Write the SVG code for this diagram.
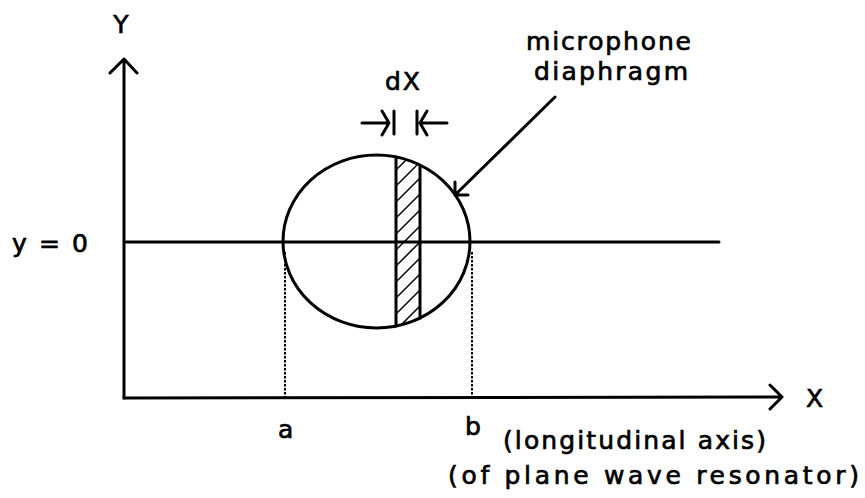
<svg xmlns="http://www.w3.org/2000/svg" width="865" height="498" viewBox="0 0 865 498">
<defs>
<style>
.ln{stroke:#000;stroke-width:3;fill:none;stroke-linecap:round;stroke-linejoin:round}
.dot{stroke:#000;stroke-width:2;fill:none;stroke-dasharray:2.5 1.5}
.hat{stroke:#000;stroke-width:1.5;fill:none}
.t{font-family:"DejaVu Sans",sans-serif;font-size:25px;fill:#000;stroke:#000;stroke-width:0.7;letter-spacing:2px}
</style>
<clipPath id="strip"><path d="M396,157 L420,166 L420,318 L396,326 Z"/></clipPath>
</defs>
<rect width="865" height="498" fill="#fff"/>
<g id="axes">
<path class="ln" d="M124,398 L124,59 M110,73 L124,59 L137,73"/>
<path class="ln" d="M124,398 L782,397 M770,385 L782,397 L770,409"/>
<text class="t" x="122" y="33" text-anchor="middle">Y</text>
<text class="t" x="806" y="407">X</text>
</g>
<g id="zero-line">
<path class="ln" d="M126,242 L719,242"/>
<text class="t" x="12" y="252" textLength="78" lengthAdjust="spacing">y = 0</text>
</g>
<g id="diaphragm">
<ellipse class="ln" cx="376.5" cy="241.5" rx="93.5" ry="86.5"/>
<g clip-path="url(#strip)">
<path class="hat" d="M380,170 L430,120 M380,186 L430,136 M380,202 L430,152 M380,218 L430,168 M380,234 L430,184 M380,250 L430,200 M380,266 L430,216 M380,282 L430,232 M380,298 L430,248 M380,314 L430,264 M380,330 L430,280 M380,346 L430,296 M380,362 L430,312 M380,378 L430,328"/>
</g>
<path class="ln" d="M396,157 L396,326 M420,166 L420,318"/>
</g>
<g id="dx">
<text class="t" x="385" y="90" textLength="37" lengthAdjust="spacing">dX</text>
<path class="ln" d="M362,123 L389,123 M382,111 L389,123 L382,135 M394,111 L394,134"/>
<path class="ln" d="M447,123 L420,123 M427,111 L420,123 L427,135 M417,111 L417,134"/>
</g>
<g id="bounds">
<path class="dot" d="M285,252 L285,397 M472,252 L472,397"/>
<text class="t" x="278" y="438">a</text>
<text class="t" x="465" y="435">b</text>
</g>
<g id="label">
<text class="t" x="526" y="50" textLength="167" lengthAdjust="spacing">microphone</text>
<text class="t" x="534" y="80" textLength="156" lengthAdjust="spacing">diaphragm</text>
<path class="ln" d="M555,97 L455,195 M455,182 L455,195 L468,195"/>
</g>
<g id="caption">
<text class="t" x="503" y="449" textLength="265" lengthAdjust="spacing">(longitudinal axis)</text>
<text class="t" x="448" y="484" textLength="413" lengthAdjust="spacing">(of plane wave resonator)</text>
</g>
</svg>
